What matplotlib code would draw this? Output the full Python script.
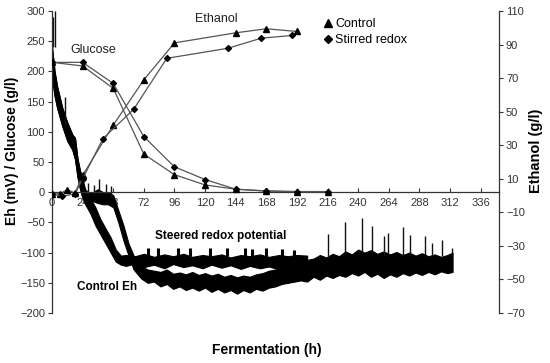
import matplotlib
matplotlib.use("Agg")
import matplotlib.pyplot as plt
from matplotlib.lines import Line2D

plt.rcParams['font.family'] = ['Liberation Sans', 'DejaVu Sans']

# ---------------- data ----------------
glu_t = [0, 24, 48, 72, 96, 120, 144, 168, 192, 216]
glu_control = [215, 209, 172, 63, 29, 12, 5, 2, 1, 1]
glu_stirred = [215, 215, 180, 92, 42, 21, 5, 2, 1, 1]

eth_t_control = [0, 6, 12, 18, 24, 48, 72, 96, 144, 168, 192]
eth_control = [1, 1, 3.5, 1.5, 12, 42, 69, 91, 97, 99.4, 97.8]
eth_t_stirred = [0, 8, 18, 24, 40, 64, 90, 138, 164, 188]
eth_stirred = [1, -0.5, 1, 10, 34, 51.4, 81.8, 87.8, 93.8, 95.4]

# Eh envelopes (mV): time, upper edge, lower edge
ehc_t = [0, 2, 4, 8, 12, 16, 18, 20, 22, 24, 26, 28, 32, 36, 40, 44, 48, 52, 56,
         60, 64, 68, 70, 75, 80, 85, 90, 95, 100, 105, 110, 115, 120, 125, 130,
         135, 140, 145, 150, 155, 160, 165, 170, 175, 180, 185, 190, 195, 200,
         205, 210, 215, 220, 225, 230, 235, 240, 245, 250, 255, 260, 265, 270,
         275, 280, 285, 290, 295, 300, 305, 310, 314]
ehc_hi = [240, 200, 175, 140, 115, 95, 90, 55, 35, 20, 5, 0, 0, 5, 0, 0, -5, -30,
          -55, -85, -105, -118, -123, -128, -130, -132, -128, -135, -133, -136,
          -132, -137, -134, -138, -135, -140, -137, -141, -138, -140, -136, -134,
          -130, -128, -124, -120, -118, -115, -112, -110, -104, -108, -102, -106,
          -98, -103, -95, -100, -96, -102, -98, -103, -99, -104, -100, -105,
          -101, -106, -103, -107, -104, -100]
ehc_lo = [190, 160, 140, 110, 85, 70, 55, 25, 5, -10, -15, -15, -15, -18, -20,
          -20, -25, -50, -80, -105, -128, -138, -143, -150, -148, -156, -152,
          -160, -156, -162, -158, -163, -158, -165, -160, -166, -162, -168, -162,
          -166, -160, -163, -158, -156, -152, -150, -148, -146, -148, -140, -145,
          -138, -142, -137, -140, -134, -138, -132, -140, -135, -142, -136, -140,
          -134, -138, -133, -137, -132, -136, -131, -134, -132]

ehs_t = [0, 2, 4, 8, 12, 16, 18, 20, 22, 24, 26, 30, 34, 38, 42, 46, 50, 54, 58,
         65, 72, 80, 88, 95, 103, 110, 118, 125, 133, 140, 148, 155, 163, 170,
         178, 185, 192, 200]
ehs_hi = [240, 200, 175, 140, 115, 95, 90, 55, 35, 20, 0, -10, -25, -45, -60,
          -75, -95, -105, -104, -106, -102, -107, -103, -106, -102, -107, -104,
          -106, -103, -108, -104, -106, -103, -107, -104, -106, -104, -105]
ehs_lo = [190, 160, 140, 110, 85, 70, 55, 25, 5, -10, -20, -35, -55, -70, -85,
          -100, -115, -120, -122, -118, -124, -120, -126, -119, -124, -121, -126,
          -120, -125, -121, -127, -122, -126, -123, -128, -126, -130, -135]

# spikes: time, top value, base value
spike_t = [1, 2, 10, 28, 33, 37, 42, 46, 216, 230, 243, 251, 260, 263.5, 275.5,
           281, 292.5, 298, 305.6, 313.5]
spike_top = [290, 300, 158, 15, 12, 22, 14, 10, -69, -50, -43, -56, -73, -67,
             -57, -71, -73, -84, -79, -92]
spike_base = [240, 240, 110, -5, -5, -5, -5, -10, -105, -105, -100, -100, -105,
              -105, -105, -105, -105, -105, -105, -105]

bump_t = [75, 83, 99, 108, 124, 137, 151, 157, 168, 180, 190]
bump_top = [-93, -92, -92, -93, -92, -93, -92, -94, -92, -94, -95]

x_ticks = list(range(0, 337, 24))
left_ticks = list(range(-200, 301, 50))
right_ticks = list(range(-70, 111, 20))

# ---------------- figure ----------------
fig = plt.figure(figsize=(5.5, 3.63), dpi=100)
ax = fig.add_axes([52 / 550, 1 - 313 / 363, (499 - 52) / 550, (313 - 11) / 363])
ax2 = ax.twinx()

ax.set_xlim(0, 350.4)
ax.set_ylim(-200, 300)
ax2.set_ylim(-70, 110)

# Eh traces
ax.fill_between(ehc_t, ehc_lo, ehc_hi, color='black', lw=0.8, zorder=2)
ax.fill_between(ehs_t, ehs_lo, ehs_hi, color='black', lw=0.8, zorder=2)
ax.vlines(spike_t, spike_base, spike_top, color='#111111', lw=1.0, zorder=2)
ax.vlines(bump_t, [-105] * len(bump_t), bump_top, color='black', lw=2.2, zorder=2)

# Glucose
ax.plot(glu_t, glu_control, color='#555555', lw=0.9, marker='^', ms=4,
        mfc='black', mec='black', zorder=4)
ax.plot(glu_t, glu_stirred, color='#555555', lw=0.9, marker='D', ms=3,
        mfc='black', mec='black', zorder=4)

# Ethanol
ax2.plot(eth_t_control, eth_control, color='#555555', lw=0.9, marker='^', ms=4,
         mfc='black', mec='black', zorder=4)
ax2.plot(eth_t_stirred, eth_stirred, color='#555555', lw=0.9, marker='D', ms=3,
         mfc='black', mec='black', zorder=4)

# axes styling
for a in (ax, ax2):
    a.spines['top'].set_visible(False)
ax.spines['right'].set_visible(False)
ax2.spines['bottom'].set_visible(False)
ax2.spines['left'].set_visible(False)
ax.spines['bottom'].set_position(('data', 0))
for s in ['left', 'bottom']:
    ax.spines[s].set_color('#333333')
    ax.spines[s].set_linewidth(0.9)
ax2.spines['right'].set_color('#333333')
ax2.spines['right'].set_linewidth(0.9)

ax.set_xticks(x_ticks)
ax.set_yticks(left_ticks)
ax2.set_yticks(right_ticks)
ax.tick_params(axis='x', direction='in', length=3, labelsize=8, pad=4,
               colors='#333333', labelcolor='#333333')
ax.tick_params(axis='y', direction='out', length=3, labelsize=8, pad=2,
               colors='#333333', labelcolor='#333333')
ax2.tick_params(axis='y', direction='out', length=3, labelsize=8, pad=2,
                colors='#333333', labelcolor='#333333')
ax.set_xticklabels([str(v) for v in x_ticks])

# annotations
ax.text(32, 235, 'Glucose', fontsize=9, ha='center', va='center', color='#222222')
ax.text(129, 286, 'Ethanol', fontsize=9, ha='center', va='center', color='#222222')
ax.text(132, -72, 'Steered redox potential', fontsize=8.5, fontweight='bold',
        ha='center', va='center')
ax.text(43, -157, 'Control Eh', fontsize=8.5, fontweight='bold',
        ha='center', va='center')

handles = [Line2D([], [], ls='none', marker='^', ms=6, color='black'),
           Line2D([], [], ls='none', marker='D', ms=4.5, color='black')]
ax.legend(handles, ['Control', 'Stirred redox'], loc='upper left',
          bbox_to_anchor=((324 - 52) / 447, 1 - 7 / 302), frameon=False,
          fontsize=9, handlelength=0.6, handletextpad=0.3,
          labelspacing=0.35, borderpad=0, borderaxespad=0)

fig.text(12 / 550, 1 - 151 / 363, 'Eh (mV) / Glucose (g/l)', rotation=90,
         fontsize=10, fontweight='bold', ha='center', va='center')
fig.text(536 / 550, 1 - 151 / 363, 'Ethanol (g/l)', rotation=90,
         fontsize=10.5, fontweight='bold', ha='center', va='center')
fig.text(267 / 550, 1 - 350 / 363, 'Fermentation (h)', fontsize=10,
         fontweight='bold', ha='center', va='center')

fig.savefig('out.png', dpi=100)
